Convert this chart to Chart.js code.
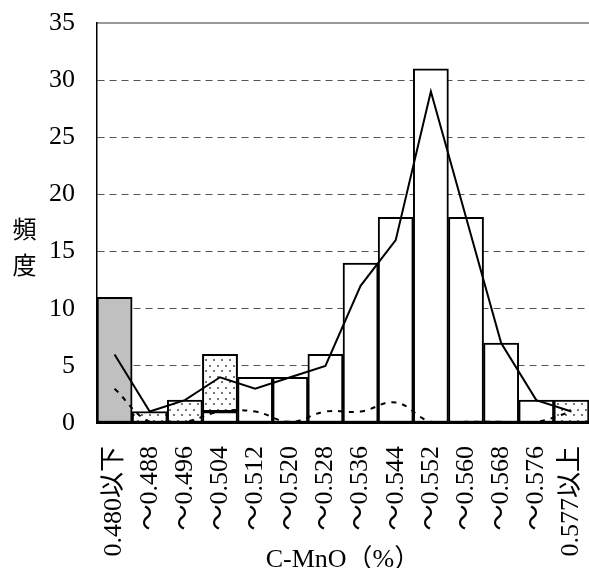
<!DOCTYPE html>
<html>
<head>
<meta charset="utf-8">
<script src="https://cdn.jsdelivr.net/npm/chart.js@4/dist/chart.umd.min.js"></script>
<style>
  html, body { margin: 0; padding: 0; background: #fff; }
  #wrap { position: relative; width: 589px; height: 568px; }
  #ytitle {
    position: absolute; left: 12px; top: 217px;
    font: 24px 'Noto Sans CJK JP', sans-serif;
    writing-mode: vertical-rl; letter-spacing: 12px; line-height: 24px; color: #000;
  }
</style>
</head>
<body>
<div id="wrap">
  <canvas id="c"></canvas>
  <div id="ytitle">頻度</div>
</div>
<script>
// Class intervals of C-MnO (%)
const categories = [
  '0.480以下', '～0.488', '～0.496', '～0.504', '～0.512', '～0.520', '～0.528',
  '～0.536', '～0.544', '～0.552', '～0.560', '～0.568', '～0.576', '0.577以上'
];
// Histogram counts (stacked bars)
const grayCounts   = [11, 0, 0, 0, 0, 0, 0, 0, 0, 0, 0, 0, 0, 0];
const whiteCounts  = [0, 0, 0, 1, 4, 4, 6, 14, 18, 31, 18, 7, 2, 0];
const dottedCounts = [0, 1, 2, 5, 0, 0, 0, 0, 0, 0, 0, 0, 0, 2];
// Frequency polygons
const solidLine  = [6, 1, 2, 4, 3, 4, 5, 12, 16, 29, 18, 7, 2, 1];
const dashedLine = [3, 0.1, 0.1, 1, 1, 0.1, 1, 1, 1.8, 0.1, 0.1, 0.1, 0.1, 1];
// Axis settings
const yTicks = [0, 5, 10, 15, 20, 25, 30, 35];
const xTitle = 'C-MnO（%）';

const nz = arr => arr.map(v => (v === 0 ? null : v));

function dotPattern() {
  const c = document.createElement('canvas');
  c.width = 8; c.height = 11;
  const g = c.getContext('2d');
  g.fillStyle = '#fff';
  g.fillRect(0, 0, 8, 11);
  g.fillStyle = '#777';
  g.fillRect(1, 2, 2, 2);
  g.fillRect(5, 7, 2, 2);
  return g.createPattern(c, 'repeat');
}

const serif = "'Liberation Serif', 'Noto Sans CJK JP', serif";

const barCommon = {
  type: 'bar',
  borderColor: '#000',
  borderWidth: 2,
  borderSkipped: false,
  categoryPercentage: 1,
  barPercentage: 1,
  stack: 'hist',
  order: 2
};

new Chart(document.getElementById('c'), {
  data: {
    labels: categories,
    datasets: [
      Object.assign({}, barCommon, { data: nz(grayCounts), backgroundColor: '#c0c0c0' }),
      Object.assign({}, barCommon, { data: nz(whiteCounts), backgroundColor: '#fff' }),
      Object.assign({}, barCommon, { data: nz(dottedCounts), backgroundColor: dotPattern() }),
      {
        type: 'line', data: solidLine, stack: 'solid', order: 0,
        borderColor: '#000', borderWidth: 2, pointRadius: 0, tension: 0, fill: false
      },
      {
        type: 'line', data: dashedLine, stack: 'dashed', order: 1,
        borderColor: '#000', borderWidth: 2, borderDash: [5, 6], pointRadius: 0,
        tension: 0.4, fill: false
      }
    ]
  },
  options: {
    responsive: true,
    maintainAspectRatio: false,
    animation: false,
    devicePixelRatio: 1,
    layout: { padding: { top: 23, left: 0, right: 0, bottom: 0 } },
    plugins: { legend: { display: false }, tooltip: { enabled: false } },
    scales: {
      x: {
        type: 'category',
        stacked: true,
        offset: true,
        grid: { display: false, drawTicks: false },
        border: { display: true, color: '#000', width: 2 },
        ticks: {
          autoSkip: false, minRotation: 90, maxRotation: 90, padding: 23,
          color: '#000', font: { family: serif, size: 26 }
        },
        title: {
          display: true, text: xTitle, color: '#000',
          font: { family: serif, size: 26, lineHeight: 1 },
          padding: { top: 0, bottom: -5 }
        },
        afterFit(scale) { scale.height = 145; scale.paddingLeft = 0; scale.paddingRight = 0; }
      },
      x2: {
        type: 'category',
        position: 'top',
        grid: { display: false, drawTicks: false },
        border: { display: true, color: '#999', width: 2 },
        ticks: { display: false },
        afterFit(scale) { scale.height = 0; scale.paddingLeft = 0; scale.paddingRight = 0; }
      },
      y: {
        stacked: true,
        min: 0, max: 35,
        afterBuildTicks(scale) { scale.ticks = yTicks.map(v => ({ value: v })); },
        grid: {
          drawTicks: false,
          color: ctx => (ctx.tick && (ctx.tick.value === 0 || ctx.tick.value === 35)) ? 'rgba(0,0,0,0)' : '#555',
          lineWidth: 1
        },
        border: { display: true, color: '#000', width: 1.5, dash: [7, 5] },
        ticks: { padding: 22, color: '#000', font: { family: serif, size: 26 } },
        afterFit(scale) { scale.width = 97; scale.paddingTop = 0; scale.paddingBottom = 0; }
      }
    }
  }
});
</script>
</body>
</html>
